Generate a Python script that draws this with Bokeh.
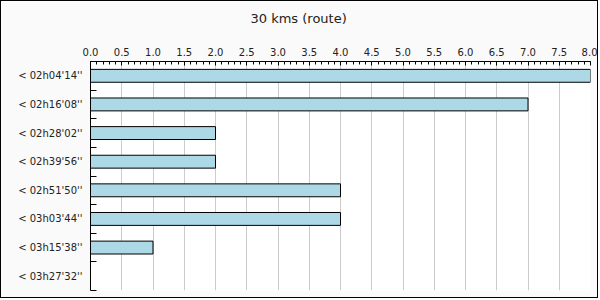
from bokeh.plotting import figure
from bokeh.models import Range1d, FixedTicker, SingleIntervalTicker, PrintfTickFormatter, ColumnDataSource
from bokeh.embed import file_html
from bokeh.resources import INLINE

categories = ["< 02h04'14''", "< 02h16'08''", "< 02h28'02''", "< 02h39'56''",
              "< 02h51'50''", "< 03h03'44''", "< 03h15'38''", "< 03h27'32''"]
counts = [8, 7, 2, 2, 4, 4, 1, 0]
title_text = "30 kms (route)"

n = len(categories)
ypos = [i + 0.5 for i in range(n)]
src = ColumnDataSource(dict(y=ypos, right=counts, cat=categories))

p = figure(width=598, height=298, output_backend="svg", toolbar_location=None,
           x_range=Range1d(0, 8), y_range=Range1d(n, 0),
           x_axis_location="above",
           min_border_left=89, min_border_right=9, min_border_top=60, min_border_bottom=9,
           styles={"border": "1px solid black"})
p.border_fill_color = "#fafafa"
p.background_fill_color = "white"
p.outline_line_color = None

# trailing empty line lifts the title toward the top of the canvas
p.title.text = title_text + "\n"
p.title.align = "left"
p.title.offset = 160
p.title.standoff = 8
p.title.text_font = "DejaVu Sans"
p.title.text_font_size = "13px"
p.title.text_font_style = "normal"
p.title.text_color = "#222222"

p.hbar(y="y", left=0, right="right", height=0.45, source=src,
       fill_color="#add8e6", line_color="black", line_width=1)

xa = p.xaxis[0]
xa.ticker = SingleIntervalTicker(interval=0.5, num_minor_ticks=5)
xa.formatter = PrintfTickFormatter(format="%.1f")
xa.major_tick_in = 4
xa.major_tick_out = 0
xa.minor_tick_in = 3
xa.minor_tick_out = 0
xa.major_label_standoff = 6
xa.major_label_text_font = "DejaVu Sans"
xa.major_label_text_font_size = "10px"
xa.major_label_text_color = "#222222"
xa.axis_line_color = "black"

ya = p.yaxis[0]
ya.ticker = FixedTicker(ticks=ypos, minor_ticks=list(range(n + 1)))
ya.major_label_overrides = {y: c for y, c in zip(ypos, categories)}
ya.major_tick_in = 0
ya.major_tick_out = 0
ya.minor_tick_in = 6
ya.minor_tick_out = 0
ya.major_label_standoff = 8
ya.major_label_text_font = "DejaVu Sans"
ya.major_label_text_font_size = "10px"
ya.major_label_text_color = "#222222"
ya.axis_line_color = "black"

p.xgrid.grid_line_color = "#cccccc"
p.ygrid.grid_line_color = None

open("out.html", "w").write(file_html(p, INLINE))
